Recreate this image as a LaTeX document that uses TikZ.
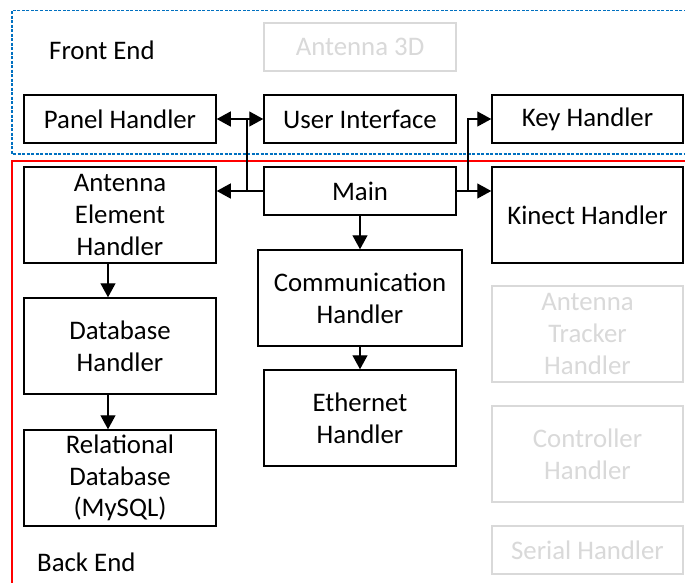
\documentclass[tikz,border=0pt]{standalone}
\usepackage{fontspec}
\setmainfont{Carlito}
\usetikzlibrary{arrows.meta}
\definecolor{frontblue}{RGB}{0,112,192}
\definecolor{backred}{RGB}{255,0,0}
\definecolor{ghost}{RGB}{217,217,217}
\tikzset{
  box/.style={draw=black, line width=1.5pt, fill=white, inner sep=0pt, align=center,
    font=\fontsize{26.8}{31.7}\selectfont, text=black},
  ghostbox/.style={box, draw=ghost, text=ghost},
  arr/.style={line width=1.3pt, -{Triangle[length=14pt,width=15pt]}},
  lbl/.style={font=\fontsize{26.8}{31.7}\selectfont, anchor=west, inner sep=0pt}
}
\begin{document}
\begin{tikzpicture}[x=1pt,y=-1pt]
\clip (0,0) rectangle (685,582);
\fill[white] (0,0) rectangle (685,582);
% regions
\draw[frontblue, line width=1.5pt, dash pattern=on 3pt off 1.5pt] (700,10.5) -- (12,10.5) -- (12,154) -- (700,154);
\draw[backred, line width=2pt] (700,161) -- (12,161) -- (12,600);
\node[lbl] (fe) at (49,50) {Front End};
\node[lbl] (be) at (37,562) {Back End};
% nodes
\node[ghostbox, minimum width=192pt, minimum height=48pt] (a3d) at (360,47) {Antenna 3D};
\node[box, minimum width=192pt, minimum height=48pt] (ph) at (120,119) {Panel Handler};
\node[box, minimum width=192pt, minimum height=48pt] (ui) at (360,119) {User Interface};
\node[box, minimum width=191pt, minimum height=48pt] (kh) at (587.5,119) {Key Handler};
\node[box, minimum width=192pt, minimum height=96pt] (aeh) at (120,215) {Antenna\\Element\\Handler};
\node[box, minimum width=192pt, minimum height=48pt] (main) at (360,191) {Main};
\node[box, minimum width=191pt, minimum height=96pt] (kin) at (587.5,215) {Kinect Handler};
\node[box, minimum width=204pt, minimum height=96pt] (comm) at (360,298) {Communication\\Handler};
\node[box, minimum width=192pt, minimum height=96pt] (dbh) at (120,346) {Database\\Handler};
\node[box, minimum width=192pt, minimum height=96pt] (eth) at (360,418) {Ethernet\\Handler};
\node[box, minimum width=192pt, minimum height=96pt] (rdb) at (120,478) {Relational\\Database\\(MySQL)};
\node[ghostbox, minimum width=191pt, minimum height=96pt] (ath) at (587.5,334) {Antenna\\Tracker\\Handler};
\node[ghostbox, minimum width=191pt, minimum height=96pt] (ch) at (587.5,454) {Controller\\Handler};
\node[ghostbox, minimum width=191pt, minimum height=48pt] (sh) at (587.5,550) {Serial Handler};
% connectors
\coordinate (jl) at (247,191);
\coordinate (jr) at (468,191);
\draw[arr] (main.west) -- (main.west -| aeh.east);
\draw[arr] (jl) |- (ph.east);
\draw[arr] (jl) |- (ui.west);
\draw[arr] (main.east) -- (main.east -| kin.west);
\draw[arr] (jr) |- (kh.west);
\draw[arr] (main.south) -- (comm.north);
\draw[arr] (comm.south) -- (eth.north);
\draw[arr] ([xshift=-12pt]aeh.south) -- ([xshift=-12pt]dbh.north);
\draw[arr] ([xshift=-12pt]dbh.south) -- ([xshift=-12pt]rdb.north);
\end{tikzpicture}
\end{document}
